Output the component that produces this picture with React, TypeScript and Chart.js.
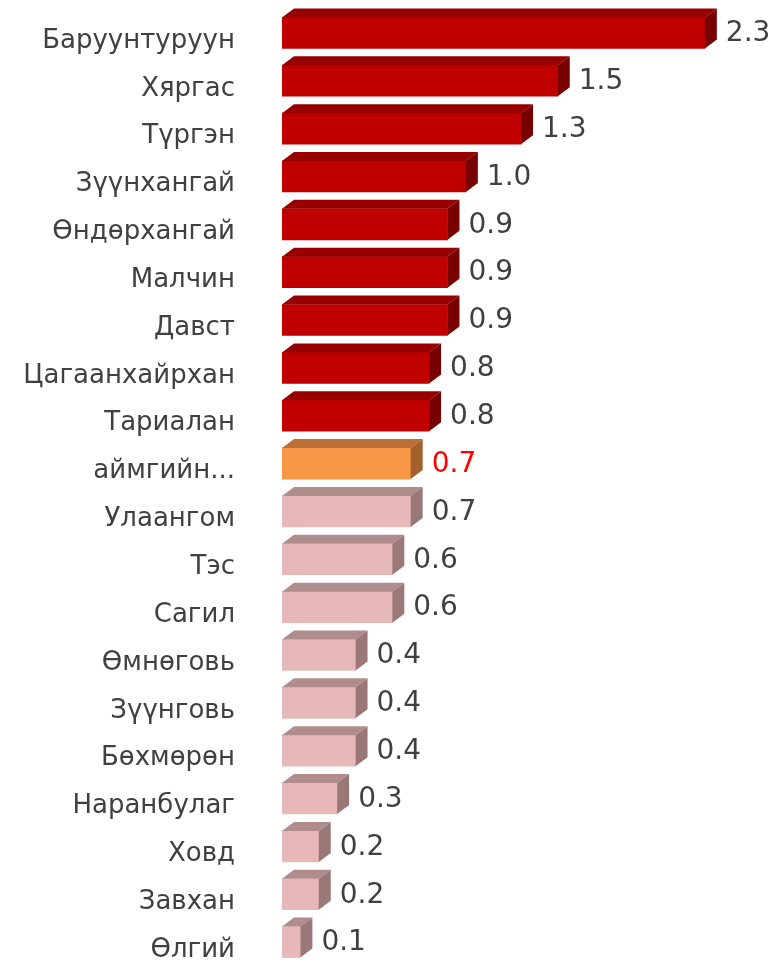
import React, { useEffect, useRef } from "react";
import { Chart, registerables } from "chart.js";

Chart.register(...registerables);

const categories: string[] = [
  "Баруунтуруун",
  "Хяргас",
  "Түргэн",
  "Зүүнхангай",
  "Өндөрхангай",
  "Малчин",
  "Давст",
  "Цагаанхайрхан",
  "Тариалан",
  "аймгийн...",
  "Улаангом",
  "Тэс",
  "Сагил",
  "Өмнөговь",
  "Зүүнговь",
  "Бөхмөрөн",
  "Наранбулаг",
  "Ховд",
  "Завхан",
  "Өлгий",
];

const values: number[] = [2.3, 1.5, 1.3, 1.0, 0.9, 0.9, 0.9, 0.8, 0.8, 0.7, 0.7, 0.6, 0.6, 0.4, 0.4, 0.4, 0.3, 0.2, 0.2, 0.1];

const averageLabel = "аймгийн...";

const FRONT = { high: "#C00000", avg: "#F79646", low: "#E6B9B8" };
const TOP = { high: "#980000", avg: "#BC7036", low: "#B08D8C" };
const SIDE = { high: "#780000", avg: "#A2602C", low: "#9A7877" };
const LABEL_COLOR = { high: "#404040", avg: "#FF0000", low: "#404040" };

const avgIndex = categories.indexOf(averageLabel);
const kindOf = (i: number) => (i < avgIndex ? "high" : i === avgIndex ? "avg" : "low");

const DX = 12;
const DY = 9;

const bar3d = {
  id: "bar3d",
  afterDatasetsDraw(chart: any) {
    const ctx = chart.ctx;
    const meta = chart.getDatasetMeta(0);
    ctx.save();
    meta.data.forEach((bar: any, i: number) => {
      const k = kindOf(i) as "high" | "avg" | "low";
      const { x, y, base, height } = bar.getProps(["x", "y", "base", "height"], true);
      const top = y - height / 2;
      const bottom = y + height / 2;
      ctx.fillStyle = TOP[k];
      ctx.beginPath();
      ctx.moveTo(base, top);
      ctx.lineTo(base + DX, top - DY);
      ctx.lineTo(x + DX, top - DY);
      ctx.lineTo(x, top);
      ctx.closePath();
      ctx.fill();
      ctx.fillStyle = SIDE[k];
      ctx.beginPath();
      ctx.moveTo(x, top);
      ctx.lineTo(x + DX, top - DY);
      ctx.lineTo(x + DX, bottom - DY);
      ctx.lineTo(x, bottom);
      ctx.closePath();
      ctx.fill();
      ctx.fillStyle = LABEL_COLOR[k];
      ctx.font = "28px 'DejaVu Sans'";
      ctx.textAlign = "left";
      ctx.textBaseline = "middle";
      ctx.fillText(values[i].toFixed(1), x + DX + 9, y + 1);
    });
    ctx.restore();
  },
};

export default function App() {
  const ref = useRef<HTMLCanvasElement | null>(null);
  useEffect(() => {
    if (!ref.current) return;
    const chart = new Chart(ref.current, {
      type: "bar",
      data: {
        labels: categories,
        datasets: [
          {
            data: values,
            backgroundColor: values.map((_, i) => FRONT[kindOf(i) as "high" | "avg" | "low"]),
            borderWidth: 0,
            barThickness: 31,
          },
        ],
      },
      options: {
        indexAxis: "y",
        animation: false,
        responsive: false,
        maintainAspectRatio: false,
        layout: { padding: { top: 9, bottom: 0, left: 0, right: 16 } },
        plugins: { legend: { display: false }, tooltip: { enabled: false } },
        scales: {
          x: { display: false, min: 0, max: 2.6 },
          y: {
            grid: { display: false, drawTicks: true, tickLength: 47 },
            border: { display: false },
            afterFit: (s: any) => {
              s.width = 282;
              s.paddingTop = 0;
              s.paddingBottom = 0;
            },
            ticks: {
              padding: 0,
              labelOffset: 8,
              color: "#404040",
              font: { family: "'DejaVu Sans'", size: 26 },
              autoSkip: false,
            },
          },
        },
      },
      plugins: [bar3d],
    });
    return () => chart.destroy();
  }, []);
  return (
    <div style={{ position: "absolute", left: 0, top: 0, width: 776, height: 966, background: "#fff" }}>
      <canvas ref={ref} width={776} height={966} style={{ display: "block" }} />
    </div>
  );
}
